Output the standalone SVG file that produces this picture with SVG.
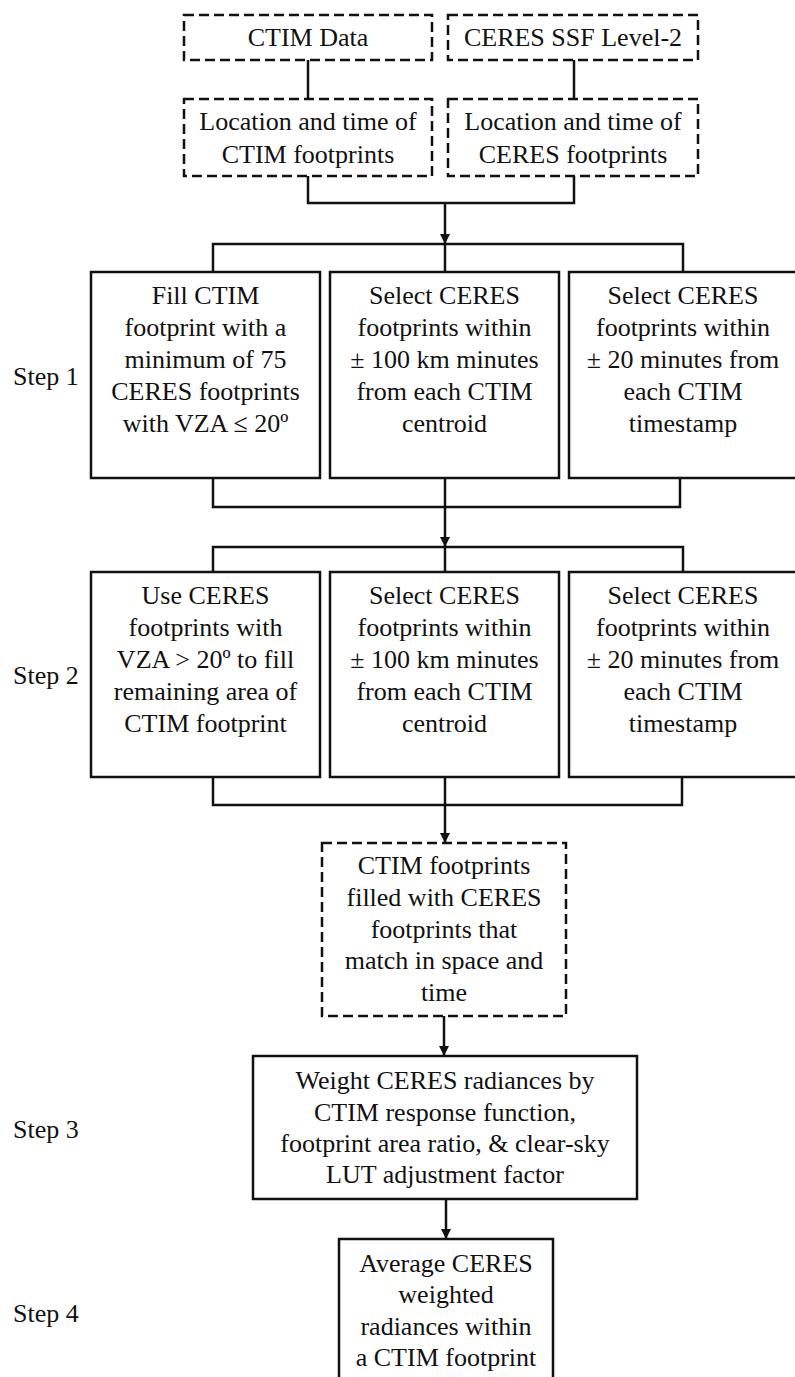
<svg xmlns="http://www.w3.org/2000/svg" width="795" height="1377" viewBox="0 0 795 1377" font-family="Liberation Serif, Times New Roman, DejaVu Serif, serif">
<defs>
<style>
text{font-family:'Liberation Serif','Times New Roman','DejaVu Serif',serif;font-size:26px;fill:#111;}
.c{text-anchor:middle;}
.box{fill:#fff;stroke:#111;stroke-width:2.5;}
.dash{fill:#fff;stroke:#111;stroke-width:2.5;stroke-dasharray:10 5;}
.ln{fill:none;stroke:#111;stroke-width:2.5;}
</style>
<marker id="ah" markerUnits="userSpaceOnUse" markerWidth="10" markerHeight="12" refX="10" refY="5" orient="auto" viewBox="0 0 10 10">
<path d="M0,0 L10,5 L0,10 z" fill="#111"/>
</marker>
</defs>
<rect width="795" height="1377" fill="#fff"/>

<g id="connectors">
<line class="ln" x1="308" y1="60" x2="308" y2="99"/>
<line class="ln" x1="574" y1="60" x2="574" y2="99"/>
<path class="ln" d="M308,176 V203 H574 V176"/>
<line class="ln" x1="445" y1="203" x2="445" y2="244" marker-end="url(#ah)"/>
<path class="ln" d="M213,272 V244 H683 V272 M445,244 V272"/>
<path class="ln" d="M213,478 V507 H680 V478 M445,478 V507"/>
<line class="ln" x1="445" y1="507" x2="445" y2="547" marker-end="url(#ah)"/>
<path class="ln" d="M213,572 V547 H683 V572 M445,547 V572"/>
<path class="ln" d="M213,777 V805 H682 V777 M445,777 V805"/>
<line class="ln" x1="445" y1="805" x2="445" y2="843" marker-end="url(#ah)"/>
<line class="ln" x1="444" y1="1016" x2="444" y2="1056" marker-end="url(#ah)"/>
<line class="ln" x1="446" y1="1199" x2="446" y2="1239" marker-end="url(#ah)"/>
</g>

<g id="ctim-data">
<rect class="dash" x="184" y="15" width="248" height="45"/>
<text class="c" x="308" y="46">CTIM Data</text>
</g>
<g id="ceres-ssf">
<rect class="dash" x="448" y="15" width="250" height="45"/>
<text class="c" x="573" y="46">CERES SSF Level-2</text>
</g>
<g id="ctim-loc">
<rect class="dash" x="184" y="99" width="248" height="77"/>
<text class="c" x="308" y="130">Location and time of</text>
<text class="c" x="308" y="163">CTIM footprints</text>
</g>
<g id="ceres-loc">
<rect class="dash" x="448" y="99" width="250" height="77"/>
<text class="c" x="573" y="130">Location and time of</text>
<text class="c" x="573" y="163">CERES footprints</text>
</g>

<g id="step1-label"><text x="13" y="385">Step 1</text></g>
<g id="s1-fill">
<rect class="box" x="91" y="272" width="229" height="206"/>
<text class="c" x="205.5" y="304">Fill CTIM</text>
<text class="c" x="205.5" y="336">footprint with a</text>
<text class="c" x="205.5" y="368">minimum of 75</text>
<text class="c" x="205.5" y="400">CERES footprints</text>
<text class="c" x="205.5" y="432">with VZA ≤ 20º</text>
</g>
<g id="s1-space">
<rect class="box" x="330" y="272" width="229" height="206"/>
<text class="c" x="444.5" y="304">Select CERES</text>
<text class="c" x="444.5" y="336">footprints within</text>
<text class="c" x="444.5" y="368">± 100 km minutes</text>
<text class="c" x="444.5" y="400">from each CTIM</text>
<text class="c" x="444.5" y="432">centroid</text>
</g>
<g id="s1-time">
<rect class="box" x="569" y="272" width="229" height="206"/>
<text class="c" x="683" y="304">Select CERES</text>
<text class="c" x="683" y="336">footprints within</text>
<text class="c" x="683" y="368">± 20 minutes from</text>
<text class="c" x="683" y="400">each CTIM</text>
<text class="c" x="683" y="432">timestamp</text>
</g>

<g id="step2-label"><text x="13" y="684">Step 2</text></g>
<g id="s2-fill">
<rect class="box" x="91" y="572" width="229" height="205"/>
<text class="c" x="205.5" y="604">Use CERES</text>
<text class="c" x="205.5" y="636">footprints with</text>
<text class="c" x="205.5" y="668">VZA &gt; 20º to fill</text>
<text class="c" x="205.5" y="700">remaining area of</text>
<text class="c" x="205.5" y="732">CTIM footprint</text>
</g>
<g id="s2-space">
<rect class="box" x="330" y="572" width="229" height="205"/>
<text class="c" x="444.5" y="604">Select CERES</text>
<text class="c" x="444.5" y="636">footprints within</text>
<text class="c" x="444.5" y="668">± 100 km minutes</text>
<text class="c" x="444.5" y="700">from each CTIM</text>
<text class="c" x="444.5" y="732">centroid</text>
</g>
<g id="s2-time">
<rect class="box" x="569" y="572" width="229" height="205"/>
<text class="c" x="683" y="604">Select CERES</text>
<text class="c" x="683" y="636">footprints within</text>
<text class="c" x="683" y="668">± 20 minutes from</text>
<text class="c" x="683" y="700">each CTIM</text>
<text class="c" x="683" y="732">timestamp</text>
</g>

<g id="matched">
<rect class="dash" x="322" y="843" width="244" height="173"/>
<text class="c" x="444" y="874">CTIM footprints</text>
<text class="c" x="444" y="906">filled with CERES</text>
<text class="c" x="444" y="938">footprints that</text>
<text class="c" x="444" y="969">match in space and</text>
<text class="c" x="444" y="1001">time</text>
</g>

<g id="step3-label"><text x="13" y="1138">Step 3</text></g>
<g id="s3-weight">
<rect class="box" x="253" y="1056" width="384" height="143"/>
<text class="c" x="445" y="1089">Weight CERES radiances by</text>
<text class="c" x="445" y="1121">CTIM response function,</text>
<text class="c" x="445" y="1152">footprint area ratio, &amp; clear-sky</text>
<text class="c" x="445" y="1183">LUT adjustment factor</text>
</g>

<g id="step4-label"><text x="13" y="1322">Step 4</text></g>
<g id="s4-average">
<rect class="box" x="339" y="1239" width="214" height="160"/>
<text class="c" x="446" y="1272">Average CERES</text>
<text class="c" x="446" y="1303">weighted</text>
<text class="c" x="446" y="1335">radiances within</text>
<text class="c" x="446" y="1366">a CTIM footprint</text>
</g>
</svg>
